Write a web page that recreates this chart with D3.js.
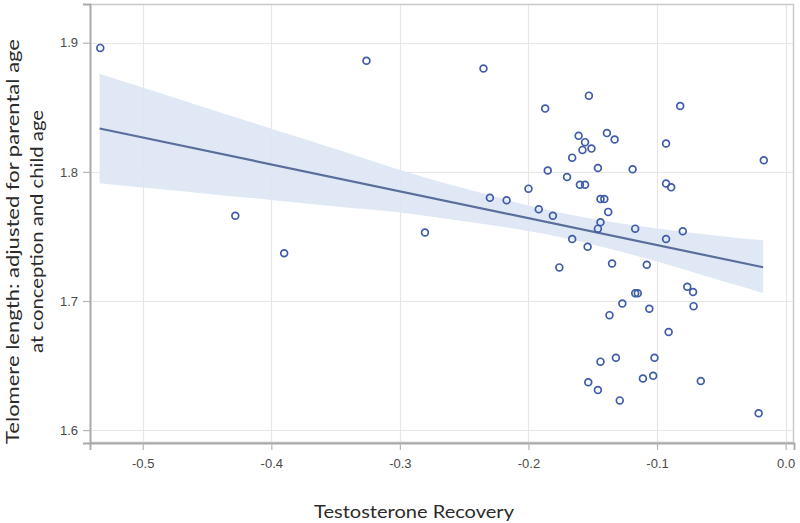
<!DOCTYPE html>
<html>
<head>
<meta charset="utf-8">
<script src="https://cdn.jsdelivr.net/npm/d3@7"></script>
<style>
  html, body { margin: 0; padding: 0; background: #ffffff; }
  svg { display: block; }
</style>
</head>
<body>
<script>
// ---- data ----
const pointX = [-0.533, -0.326, -0.428, -0.390, -0.235, -0.153, -0.187, -0.082, -0.161, -0.156,
  -0.139, -0.133, -0.158, -0.151, -0.093, -0.166, -0.017, -0.185, -0.146, -0.119,
  -0.170, -0.160, -0.156, -0.093, -0.089, -0.200, -0.144, -0.141, -0.230, -0.217,
  -0.138, -0.192, -0.181, -0.144, -0.146, -0.117, -0.080, -0.2805, -0.166, -0.093,
  -0.154, -0.176, -0.135, -0.108, -0.0765, -0.072, -0.117, -0.115, -0.127, -0.0716,
  -0.106, -0.137, -0.091, -0.144, -0.132, -0.102, -0.1535, -0.146, -0.111, -0.103,
  -0.066, -0.129, -0.021];
const pointY = [1.896, 1.886, 1.766, 1.737, 1.880, 1.859, 1.849, 1.851, 1.828, 1.823,
  1.830, 1.825, 1.817, 1.818, 1.822, 1.811, 1.809, 1.801, 1.803, 1.802,
  1.796, 1.790, 1.790, 1.791, 1.788, 1.787, 1.779, 1.779, 1.780, 1.778,
  1.769, 1.771, 1.766, 1.761, 1.756, 1.756, 1.754, 1.753, 1.748, 1.748,
  1.742, 1.726, 1.729, 1.728, 1.711, 1.707, 1.706, 1.706, 1.698, 1.696,
  1.694, 1.689, 1.676, 1.653, 1.656, 1.656, 1.637, 1.631, 1.640, 1.642,
  1.638, 1.623, 1.613];

// fitted line end points
const fitX = [-0.5335, -0.0175];
const fitY = [1.8336, 1.7261];

// confidence band
const bandX     = [-0.5335, -0.5,   -0.45,  -0.4,   -0.35,  -0.3,   -0.25,  -0.2,   -0.175, -0.15,  -0.1,   -0.05,  -0.0175];
const bandUpper = [1.8760, 1.8653, 1.8493, 1.8334, 1.8177, 1.8015, 1.7873, 1.7740, 1.7684, 1.7636, 1.7561, 1.7502, 1.7470];
const bandLower = [1.7912, 1.7879, 1.7831, 1.7782, 1.7731, 1.7685, 1.7617, 1.7542, 1.7494, 1.7438, 1.7305, 1.7156, 1.7062];

const xTicks = [-0.5, -0.4, -0.3, -0.2, -0.1, 0.0];
const yTicks = [1.6, 1.7, 1.8, 1.9];
const xTitle = "Testosterone Recovery";
const yTitle = ["Telomere length: adjusted for parental age", "at conception and child age"];

// ---- layout ----
const W = 800, H = 523;
const L = 90, R = 794, T = 4, B = 443;

const svg = d3.select("body").append("svg").attr("width", W).attr("height", H);

const x = d3.scaleLinear().domain([-0.541, 0.0065]).range([L, R]);
const y = d3.scaleLinear().domain([1.590, 1.930]).range([B, T]);

// gridlines
const grid = svg.append("g");
grid.selectAll("line.gx").data(xTicks).join("line")
  .attr("x1", d => Math.round(x(d)) + 0.5).attr("x2", d => Math.round(x(d)) + 0.5)
  .attr("y1", T).attr("y2", B)
  .attr("stroke", "#e6e6e6").attr("stroke-width", 1.2);
grid.selectAll("line.gy").data(yTicks).join("line")
  .attr("y1", d => Math.round(y(d)) + 0.5).attr("y2", d => Math.round(y(d)) + 0.5)
  .attr("x1", L).attr("x2", R)
  .attr("stroke", "#e6e6e6").attr("stroke-width", 1.2);

// band
const bandData = bandX.map((v, i) => ({x: v, lo: bandLower[i], hi: bandUpper[i]}));
svg.append("path")
  .datum(bandData)
  .attr("d", d3.area().x(d => x(d.x)).y0(d => y(d.lo)).y1(d => y(d.hi)).curve(d3.curveMonotoneX))
  .attr("fill", "#dbe6f3")
  .attr("fill-opacity", 0.9);

// fit line
svg.append("path")
  .datum(fitX.map((v, i) => [v, fitY[i]]))
  .attr("d", d3.line().x(d => x(d[0])).y(d => y(d[1])))
  .attr("fill", "none")
  .attr("stroke", "#5a6e9b")
  .attr("stroke-width", 2.2);

// points
svg.append("g").selectAll("circle")
  .data(pointX.map((v, i) => [v, pointY[i]]))
  .join("circle")
  .attr("cx", d => x(d[0]))
  .attr("cy", d => y(d[1]))
  .attr("r", 3.4)
  .attr("fill", "none")
  .attr("stroke", "#3f5ca8")
  .attr("stroke-width", 1.7);

// frame
svg.append("rect")
  .attr("x", L + 0.5).attr("y", T + 0.5)
  .attr("width", R - L - 1).attr("height", B - T - 1)
  .attr("fill", "none").attr("stroke", "#c9c9c9").attr("stroke-width", 1.5);

// axes
const xAxis = svg.append("g").attr("transform", `translate(0,${B})`)
  .call(d3.axisBottom(x).tickValues(xTicks).tickFormat(d3.format(".1f")).tickSize(7).tickPadding(9));
const yAxis = svg.append("g").attr("transform", `translate(${L},0)`)
  .call(d3.axisLeft(y).tickValues(yTicks).tickFormat(d3.format(".1f")).tickSize(7).tickPadding(5));

[xAxis, yAxis].forEach(g => {
  g.select(".domain").attr("stroke", "#a9a9a9").attr("stroke-width", 1.8);
  g.selectAll(".tick line").attr("stroke", "#b5b5b5").attr("stroke-width", 1.2);
  g.selectAll(".tick text")
    .attr("fill", "#4a4a4a")
    .style("font-family", "Arial, 'Liberation Sans', sans-serif")
    .style("font-size", "13px");
});
xAxis.selectAll(".tick text").text(d => d === 0 ? "0.0" : d3.format(".1f")(d).replace("−", "-"));

// titles
svg.append("text")
  .attr("x", 414).attr("y", 518)
  .attr("text-anchor", "middle")
  .attr("fill", "#2b2b2b")
  .attr("textLength", 200)
  .attr("lengthAdjust", "spacingAndGlyphs")
  .style("font-family", "Lato, 'Open Sans', sans-serif")
  .style("font-size", "18px")
  .text(xTitle);

const yt = svg.append("text")
  .attr("transform", "translate(0,238) rotate(-90)")
  .attr("text-anchor", "middle")
  .attr("fill", "#2b2b2b")
  .style("font-family", "Lato, 'Open Sans', sans-serif")
  .style("font-size", "18px");
yt.append("tspan").attr("x", -3.5).attr("y", 19)
  .attr("textLength", 405).attr("lengthAdjust", "spacingAndGlyphs").text(yTitle[0]);
yt.append("tspan").attr("x", 6.5).attr("y", 43)
  .attr("textLength", 243).attr("lengthAdjust", "spacingAndGlyphs").text(yTitle[1]);
</script>
</body>
</html>
